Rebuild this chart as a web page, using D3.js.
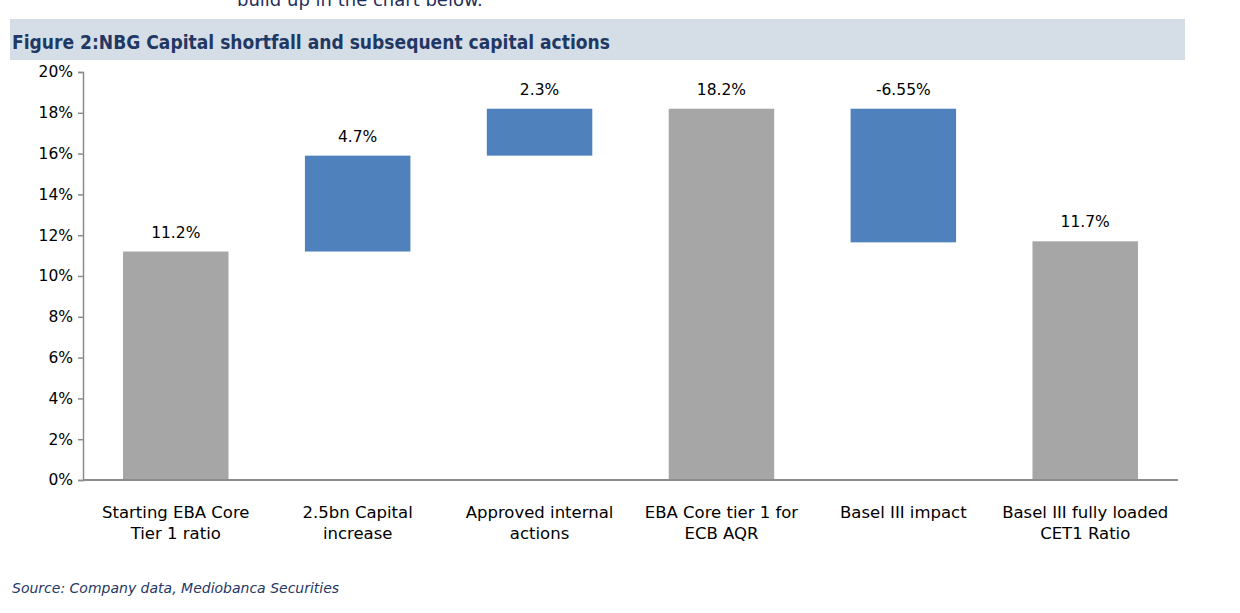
<!DOCTYPE html>
<html>
<head>
<meta charset="utf-8">
<script src="https://cdn.jsdelivr.net/npm/d3@7/dist/d3.min.js"></script>
<style>
  body { margin: 0; background: #fff; }
  svg { display: block; }
</style>
</head>
<body>
<script>
// waterfall data
const categories = [
    ["Starting EBA Core", "Tier 1 ratio"],
    ["2.5bn Capital", "increase"],
    ["Approved internal", "actions"],
    ["EBA Core tier 1 for", "ECB AQR"],
    ["Basel III impact"],
    ["Basel III fully loaded", "CET1 Ratio"]
];
const steps = [11.2, 4.7, 2.3, 18.2, -6.55, 11.7];
const isTotal = [true, false, false, true, false, true];
const valueLabels = ["11.2%", "4.7%", "2.3%", "18.2%", "-6.55%", "11.7%"];
const yTicks = [0, 2, 4, 6, 8, 10, 12, 14, 16, 18, 20];

const width = 1240, height = 613;
const margin = { left: 83, right: 62, top: 72, bottom: 133 };
const font = "'DejaVu Sans', Verdana, sans-serif";

const svg = d3.select("body").append("svg")
    .attr("width", width)
    .attr("height", height)
    .style("font-family", font);

// text cut off at the top, from the page above the figure
svg.append("text")
    .attr("x", 237).attr("y", 6)
    .attr("font-size", 18)
    .attr("fill", "#1f2f5a")
    .text("build up in the chart below.");

// title band
svg.append("rect")
    .attr("x", 10).attr("y", 19)
    .attr("width", 1175).attr("height", 41)
    .attr("fill", "#d5dee6");

svg.append("text")
    .attr("x", 12).attr("y", 49)
    .attr("font-size", 20)
    .attr("font-weight", "bold")
    .attr("fill", "#1f3864")
    .attr("textLength", 598)
    .attr("lengthAdjust", "spacingAndGlyphs")
    .style("font-family", "'DejaVu Sans Condensed', 'DejaVu Sans', sans-serif")
    .text("Figure 2:NBG Capital shortfall and subsequent capital actions");

// build bar extents from the steps
let running = 0;
const bars = steps.map((v, i) => {
    let lo, hi;
    if (isTotal[i]) {
        lo = 0; hi = v; running = v;
    } else {
        const next = running + v;
        lo = Math.min(running, next); hi = Math.max(running, next);
        running = next;
    }
    return { i: i, lo: lo, hi: hi, total: isTotal[i], label: valueLabels[i] };
});

const x = d3.scaleBand()
    .domain(d3.range(categories.length))
    .range([margin.left, width - margin.right])
    .paddingInner(0.42)
    .paddingOuter(0.22);

const y = d3.scaleLinear()
    .domain([0, 20])
    .range([height - margin.bottom, margin.top]);

// y axis
const yAxis = svg.append("g")
    .attr("transform", `translate(${margin.left},0)`)
    .call(d3.axisLeft(y).tickValues(yTicks).tickSize(5).tickPadding(5).tickFormat(d => d + "%"));
yAxis.select(".domain").attr("stroke", "#8c8c8c").attr("stroke-width", 1.5);
yAxis.selectAll(".tick line").attr("stroke", "#8c8c8c").attr("stroke-width", 1.5);
yAxis.selectAll(".tick text")
    .attr("font-size", 15.5)
    .attr("fill", "#000")
    .style("font-family", font);

// bars
svg.append("g").selectAll("rect")
    .data(bars)
    .enter().append("rect")
    .attr("x", d => x(d.i))
    .attr("width", x.bandwidth())
    .attr("y", d => y(d.hi))
    .attr("height", d => y(d.lo) - y(d.hi))
    .attr("fill", d => d.total ? "#a6a6a6" : "#4f81bd");

// x axis baseline
svg.append("line")
    .attr("x1", margin.left).attr("x2", width - margin.right)
    .attr("y1", y(0)).attr("y2", y(0))
    .attr("stroke", "#8c8c8c")
    .attr("stroke-width", 2);

// value labels
svg.append("g").selectAll("text")
    .data(bars)
    .enter().append("text")
    .attr("x", d => x(d.i) + x.bandwidth() / 2)
    .attr("y", d => y(d.hi) - 14)
    .attr("text-anchor", "middle")
    .attr("font-size", 15.5)
    .attr("fill", "#000")
    .text(d => d.label);

// category labels
const cat = svg.append("g").selectAll("text")
    .data(categories)
    .enter().append("text")
    .attr("x", (d, i) => x(i) + x.bandwidth() / 2)
    .attr("y", y(0) + 38)
    .attr("text-anchor", "middle")
    .attr("font-size", 16.5)
    .attr("fill", "#000");
cat.selectAll("tspan")
    .data(d => d)
    .enter().append("tspan")
    .attr("x", function () { return d3.select(this.parentNode).attr("x"); })
    .attr("dy", (d, j) => j === 0 ? 0 : 21)
    .text(d => d);

// source
svg.append("text")
    .attr("x", 12).attr("y", 593)
    .attr("font-size", 14)
    .attr("font-style", "italic")
    .attr("fill", "#1f3864")
    .text("Source: Company data, Mediobanca Securities");
</script>
</body>
</html>
